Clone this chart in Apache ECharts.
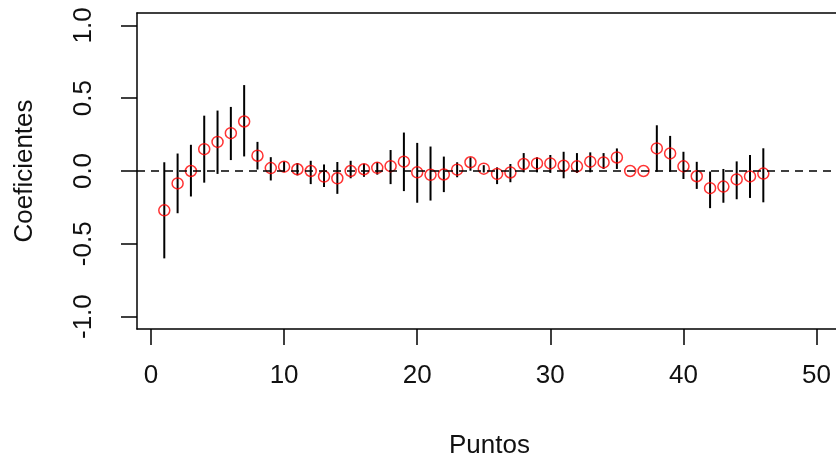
<!DOCTYPE html>
<html>
<head>
<meta charset="utf-8">
<script src="https://cdn.jsdelivr.net/npm/echarts@6/dist/echarts.min.js"></script>
<style>
  html, body { margin: 0; padding: 0; background: #fff; }
  #chart { width: 836px; height: 464px; }
</style>
</head>
<body>
<div id="chart"></div>
<script>
// Estimated coefficient at each point, with its lower and upper interval bounds
const puntos = [1, 2, 3, 4, 5, 6, 7, 8, 9, 10, 11, 12, 13, 14, 15, 16, 17, 18, 19, 20, 21, 22, 23,
                24, 25, 26, 27, 28, 29, 30, 31, 32, 33, 34, 35, 36, 37, 38, 39, 40, 41, 42, 43, 44, 45, 46];
const coef = [-0.27, -0.085, 0.0, 0.15, 0.20, 0.26, 0.34, 0.105, 0.02, 0.03, 0.012, 0.0, -0.038, -0.05,
              0.0, 0.012, 0.022, 0.033, 0.064, -0.009, -0.026, -0.024, 0.009, 0.06, 0.016, -0.02, -0.01,
              0.048, 0.052, 0.052, 0.036, 0.032, 0.064, 0.059, 0.093, 0.0, 0.0, 0.155, 0.121, 0.032,
              -0.036, -0.118, -0.107, -0.058, -0.037, -0.018];
const lower = [-0.60, -0.29, -0.175, -0.08, -0.02, 0.075, 0.10, 0.01, -0.065, -0.005, -0.03, -0.09, -0.11,
               -0.157, -0.05, -0.04, -0.025, -0.09, -0.138, -0.218, -0.203, -0.145, -0.043, 0.002, -0.01,
               -0.09, -0.077, -0.009, -0.009, -0.013, -0.05, -0.013, -0.009, 0.014, 0.014, 0.0, 0.0,
               -0.005, -0.005, -0.055, -0.123, -0.255, -0.218, -0.194, -0.185, -0.215];
const upper = [0.06, 0.12, 0.18, 0.38, 0.415, 0.44, 0.59, 0.20, 0.095, 0.065, 0.055, 0.07, 0.045, 0.062,
               0.07, 0.05, 0.06, 0.144, 0.264, 0.193, 0.168, 0.099, 0.06, 0.094, 0.04, 0.025, 0.048,
               0.123, 0.094, 0.11, 0.132, 0.123, 0.128, 0.123, 0.155, 0.0, 0.0, 0.314, 0.241, 0.132,
               0.063, -0.004, 0.014, 0.066, 0.11, 0.156];
const xTicks = [0, 10, 20, 30, 40, 50];
const yTicks = [-1, -0.5, 0, 0.5, 1];

const font = 'Liberation Sans, Arial, sans-serif';
const textColor = '#111';
const X_MIN = -1.05, X_MAX = 51.46;
const frame = { show: true, onZero: false, lineStyle: { color: '#000', width: 1.5 } };

const chart = echarts.init(document.getElementById('chart'), null, { renderer: 'canvas' });

chart.setOption({
  animation: false,
  backgroundColor: '#fff',
  // the plot box is open on the right: it continues past the canvas edge
  grid: { left: 137, top: 13, right: 0, bottom: 133 },
  xAxis: [
    {
      type: 'value',
      min: X_MIN, max: X_MAX,
      axisLine: frame,
      axisTick: { show: true, customValues: xTicks, length: 16, lineStyle: { color: '#000', width: 1.5 } },
      axisLabel: {
        customValues: xTicks, margin: 34,
        fontSize: 26, fontFamily: font, color: textColor
      },
      splitLine: { show: false },
      name: 'Puntos', nameLocation: 'middle', nameGap: 104,
      nameTextStyle: { fontSize: 26, fontFamily: font, color: textColor, padding: [0, 0, 0, 6] }
    },
    {
      // top edge of the box
      type: 'value', position: 'top',
      min: X_MIN, max: X_MAX,
      axisLine: frame,
      axisTick: { show: false },
      axisLabel: { show: false },
      splitLine: { show: false }
    }
  ],
  yAxis: {
    type: 'value',
    min: -1.085, max: 1.085,
    axisLine: frame,
    axisTick: { show: true, customValues: yTicks, length: 16, lineStyle: { color: '#000', width: 1.5 } },
    axisLabel: {
      customValues: yTicks, rotate: 90, margin: 40,
      formatter: v => v.toFixed(1),
      fontSize: 26, fontFamily: font, color: textColor
    },
    splitLine: { show: false },
    name: 'Coeficientes', nameLocation: 'middle', nameGap: 99,
    nameTextStyle: { fontSize: 26, fontFamily: font, color: textColor }
  },
  series: [
    {
      // vertical interval bars
      type: 'custom',
      data: puntos.map((p, i) => [p, lower[i], upper[i]]),
      encode: { x: 0, y: [1, 2] },
      renderItem: (params, api) => {
        const a = api.coord([api.value(0), api.value(1)]);
        const b = api.coord([api.value(0), api.value(2)]);
        return {
          type: 'line',
          shape: { x1: a[0], y1: a[1], x2: b[0], y2: b[1] },
          style: { stroke: '#000', lineWidth: 2 }
        };
      },
      z: 2
    },
    {
      type: 'scatter',
      data: puntos.map((p, i) => [p, coef[i]]),
      symbol: 'circle',
      symbolSize: 11,
      itemStyle: { color: 'transparent', borderColor: '#ff0000', borderWidth: 1.5 },
      z: 3,
      markLine: {
        silent: true,
        symbol: ['none', 'none'],
        label: { show: false },
        lineStyle: { type: [8, 6], color: '#000', width: 1.5 },
        data: [{ yAxis: 0 }]
      }
    }
  ]
});
</script>
</body>
</html>
